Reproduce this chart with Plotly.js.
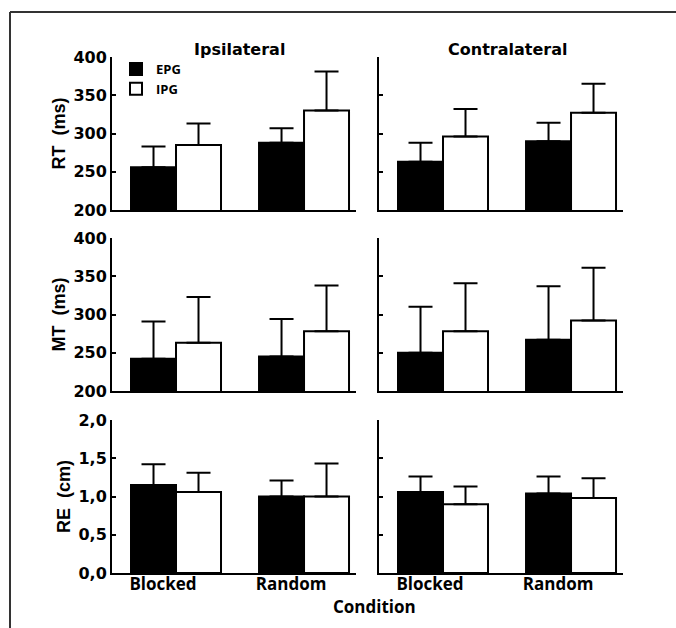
<!DOCTYPE html>
<html><head><meta charset="utf-8">
<script src="https://cdn.plot.ly/plotly-3.0.1.min.js"></script>
<style>html,body{margin:0;padding:0;background:#fff}</style>
</head><body><div id="chart" style="width:676px;height:628px"></div>
<script>
const conditions = ['Blocked', 'Random'];
const groupNames = ['EPG', 'IPG'];
const sideTitles = ['Ipsilateral', 'Contralateral'];
const measureTitles = ['RT&nbsp;&nbsp;(ms)', 'MT&nbsp;&nbsp;(ms)', 'RE&nbsp;&nbsp;(cm)'];
const xTitle = 'Condition';

// RT (ms)
const rtIpsiEPG = [256, 288];   const rtIpsiEPGsd = [27, 19];
const rtIpsiIPG = [285, 330];   const rtIpsiIPGsd = [28, 51];
const rtContraEPG = [263, 290]; const rtContraEPGsd = [25, 24];
const rtContraIPG = [296, 327]; const rtContraIPGsd = [36, 38];
// MT (ms)
const mtIpsiEPG = [242, 245];   const mtIpsiEPGsd = [49, 49];
const mtIpsiIPG = [263, 278];   const mtIpsiIPGsd = [60, 60];
const mtContraEPG = [250, 267]; const mtContraEPGsd = [60, 70];
const mtContraIPG = [278, 292]; const mtContraIPGsd = [63, 69];
// RE (cm)
const reIpsiEPG = [1.15, 1.00];   const reIpsiEPGsd = [0.27, 0.21];
const reIpsiIPG = [1.06, 1.00];   const reIpsiIPGsd = [0.25, 0.43];
const reContraEPG = [1.06, 1.04]; const reContraEPGsd = [0.20, 0.22];
const reContraIPG = [0.90, 0.98]; const reContraIPGsd = [0.23, 0.26];

const yRanges = [[200, 400], [200, 400], [0, 2]];
const yDticks = [50, 50, 0.5];

const panels = [
  [[rtIpsiEPG, rtIpsiEPGsd, rtIpsiIPG, rtIpsiIPGsd], [rtContraEPG, rtContraEPGsd, rtContraIPG, rtContraIPGsd]],
  [[mtIpsiEPG, mtIpsiEPGsd, mtIpsiIPG, mtIpsiIPGsd], [mtContraEPG, mtContraEPGsd, mtContraIPG, mtContraIPGsd]],
  [[reIpsiEPG, reIpsiEPGsd, reIpsiIPG, reIpsiIPGsd], [reContraEPG, reContraEPGsd, reContraIPG, reContraIPGsd]]
];

const W = 676, H = 628;
const xDomPx = [[112, 356], [379, 623]];
const yDomPx = [[57, 210], [238, 391], [420, 573]];
const fills = ['#000000', '#ffffff'];

const data = [];
const layout = {
  width: W, height: H,
  margin: {l: 0, r: 0, t: 0, b: 0},
  paper_bgcolor: '#ffffff', plot_bgcolor: 'rgba(0,0,0,0)',
  barmode: 'group', bargap: 0.297, bargroupgap: 0,
  separators: ',.',
  showlegend: true,
  legend: {x: 116 / W, y: 1 - 54 / H, xanchor: 'left', yanchor: 'top',
    bgcolor: 'rgba(0,0,0,0)', tracegroupgap: 0,
    font: {family: 'Open Sans', size: 13, color: '#000', weight: 'bold'}},
  annotations: [], shapes: []
};

for (let r = 0; r < 3; r++) {
  for (let c = 0; c < 2; c++) {
    const i = r * 2 + c + 1;
    const sfx = i === 1 ? '' : String(i);
    const [e, esd, p, psd] = panels[r][c];
    const series = [[e, esd], [p, psd]];
    for (let g = 0; g < 2; g++) {
      data.push({
        type: 'bar', x: conditions, y: series[g][0], name: groupNames[g],
        legendgroup: groupNames[g], showlegend: (i === 1),
        xaxis: 'x' + sfx, yaxis: 'y' + sfx,
        marker: {color: fills[g], line: {color: '#000', width: 2}},
        error_y: {type: 'data', symmetric: false, array: series[g][1],
          arrayminus: series[g][1].map(() => 0), color: '#000', thickness: 2, width: 12},
        hoverinfo: 'skip'
      });
    }
    layout['xaxis' + sfx] = {
      domain: [xDomPx[c][0] / W, xDomPx[c][1] / W],
      anchor: 'y' + sfx, type: 'category', range: [-0.5, 1.406],
      showline: true, linecolor: '#000', linewidth: 2,
      showgrid: false, zeroline: false, ticks: '',
      showticklabels: r === 2, ticklabelshift: -13, ticklabelstandoff: -5,
      tickfont: {family: 'Open Sans', size: 17, color: '#000', weight: 'bold'},
      fixedrange: true
    };
    layout['yaxis' + sfx] = {
      domain: [1 - yDomPx[r][1] / H, 1 - yDomPx[r][0] / H],
      anchor: 'x' + sfx, range: yRanges[r], dtick: yDticks[r],
      tickformat: r === 2 ? '.1f' : 'd',
      showline: true, linecolor: '#000', linewidth: 2,
      showgrid: false, zeroline: false,
      ticks: 'inside', ticklen: 4, tickwidth: 2, tickcolor: '#000',
      showticklabels: c === 0,
      tickfont: {family: 'DejaVu Sans', size: 16, color: '#000', weight: 'bold'},
      title: c === 0 ? {text: measureTitles[r], standoff: 3,
        font: {family: 'Liberation Sans', size: 18, color: '#000', weight: 'bold'}} : {text: ''},
      fixedrange: true
    };
  }
}

layout.annotations.push(
  {text: sideTitles[0], xref: 'paper', yref: 'paper', x: 239.5 / W, y: 1 - 49 / H,
   showarrow: false, xanchor: 'center', yanchor: 'middle',
   font: {family: 'DejaVu Sans', size: 16, color: '#000', weight: 'bold'}},
  {text: sideTitles[1], xref: 'paper', yref: 'paper', x: 508 / W, y: 1 - 49 / H,
   showarrow: false, xanchor: 'center', yanchor: 'middle',
   font: {family: 'DejaVu Sans', size: 16, color: '#000', weight: 'bold'}},
  {text: xTitle, xref: 'paper', yref: 'paper', x: 374 / W, y: 1 - 606 / H,
   showarrow: false, xanchor: 'center', yanchor: 'middle',
   font: {family: 'Open Sans', size: 17, color: '#000', weight: 'bold'}}
);

layout.shapes.push(
  {type: 'line', xref: 'paper', yref: 'paper', x0: 10 / W, x1: 1, y0: 1 - 12 / H, y1: 1 - 12 / H,
   line: {color: '#333', width: 2}},
  {type: 'line', xref: 'paper', yref: 'paper', x0: 10 / W, x1: 10 / W, y0: 0, y1: 1 - 12 / H,
   line: {color: '#333', width: 2}}
);

Plotly.newPlot('chart', data, layout, {displayModeBar: false, staticPlot: true});
</script></body></html>
